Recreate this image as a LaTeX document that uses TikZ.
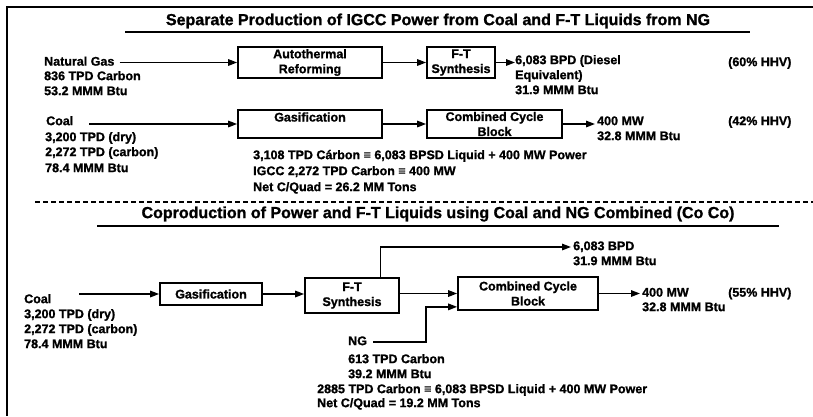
\documentclass[tikz,border=0pt]{standalone}
\usepackage{fontspec}
\setmainfont{Liberation Sans}[BoldFeatures={FakeBold=1.2}]
\usetikzlibrary{positioning,arrows.meta,calc}
\definecolor{ink}{HTML}{000000}
\newcommand{\bodyfont}{\fontsize{12.5}{15}\selectfont\bfseries}
\newcommand{\headfont}{\fontsize{16}{18}\selectfont\bfseries}

\begin{document}
\begin{tikzpicture}[x=1pt,y=-1pt,
    unit/.style={draw=ink,line width=1.7pt,align=center,inner sep=0pt,font=\bodyfont},
    flow/.style={-{Triangle[length=9pt,width=6.5pt]},line width=1.5pt,color=ink},
    lbl/.style={anchor=west,inner sep=0pt,font=\bodyfont,text height=9pt,text depth=2.7pt},
    head/.style={font=\headfont,inner sep=0pt}]

      \useasboundingbox (0,0) rectangle (813,416);
      \draw[line width=1.5pt,color=ink] (813,7) -- (7,7) -- (7,416);

      % separate production
      \node[head] (title1) at (438,21) {Separate Production of IGCC Power from Coal and F-T Liquids from NG};
      \draw[line width=1.6pt] (125,32) -- (750,32);

      \node[lbl] (ng) at (44,62.5) {Natural Gas};
      \node[lbl] at (44,77) {836 TPD Carbon};
      \node[lbl] at (44,92) {53.2 MMM Btu};
      \node[unit,minimum width=144pt,minimum height=31pt] (atr) at (310,62.5) {Autothermal\\Reforming};
      \node[unit,minimum width=68pt,minimum height=31pt] (ft1) at (461,62.5) {F-T\\Synthesis};
      \node[lbl] (bpd1) at (515,61) {6,083 BPD (Diesel};
      \node[lbl] at (515,76) {Equivalent)};
      \node[lbl] at (515,91) {31.9 MMM Btu};
      \node[lbl] at (728,63) {(60\% HHV)};

      \node[lbl] (coal1) at (46,122) {Coal};
      \node[lbl] at (45,138) {3,200 TPD (dry)};
      \node[lbl] at (45,153) {2,272 TPD (carbon)};
      \node[lbl] at (45,169) {78.4 MMM Btu};
      \node[unit,minimum width=144pt,minimum height=28pt,text height=9pt,text depth=14pt] (gas1) at (310,124) {Gasification};
      \node[unit,minimum width=135pt,minimum height=28pt] (cc1) at (494.5,124) {Combined Cycle\\Block};
      \node[lbl] (mw1) at (597,122) {400 MW};
      \node[lbl] at (597,137) {32.8 MMM Btu};
      \node[lbl] at (728,122) {(42\% HHV)};

      \node[lbl] at (253,156) {3,108 TPD Cárbon ≡ 6,083 BPSD Liquid + 400 MW Power};
      \node[lbl] at (253,172) {IGCC 2,272 TPD Carbon ≡ 400 MW};
      \node[lbl] at (253,188) {Net C/Quad = 26.2 MM Tons};

      \draw[flow] ([xshift=5pt]ng.east) -- (atr.west);
      \draw[flow] (atr.east) -- (ft1.west);
      \draw[flow] (ft1.east) -- (ft1.east -| bpd1.west);
      \draw[flow] ([xshift=16pt]coal1.east |- gas1.west) -- (gas1.west);
      \draw[flow] (gas1.east) -- (cc1.west);
      \draw[flow] (cc1.east) -- ([xshift=-2pt]cc1.east -| mw1.west);

      \draw[line width=1.7pt,dash pattern=on 4.5pt off 3.5pt] (35,202) -- (813,202);

      % coproduction
      \node[head] (title2) at (438,214) {Coproduction of Power and F-T Liquids using Coal and NG Combined (Co Co)};
      \draw[line width=1.6pt] (97,226) -- (779,226);

      \node[lbl] (coal2) at (24,300) {Coal};
      \node[lbl] at (24,315) {3,200 TPD (dry)};
      \node[lbl] at (24,330) {2,272 TPD (carbon)};
      \node[lbl] at (24,345) {78.4 MMM Btu};
      \node[unit,minimum width=102pt,minimum height=22pt] (gas2) at (211,294) {Gasification};
      \node[unit,minimum width=94pt,minimum height=35pt] (ft2) at (352,295.5) {F-T\\Synthesis};
      \node[unit,minimum width=140pt,minimum height=33pt] (cc2) at (528,293.5) {Combined Cycle\\Block};
      \node[lbl] (bpd2) at (573,247) {6,083 BPD};
      \node[lbl] at (573,262) {31.9 MMM Btu};
      \node[lbl] (mw2) at (642,293.5) {400 MW};
      \node[lbl] at (642,308) {32.8 MMM Btu};
      \node[lbl] at (728,293.5) {(55\% HHV)};

      \node[lbl] (ng2) at (348,342) {NG};
      \node[lbl] at (348,360) {613 TPD Carbon};
      \node[lbl] at (348,375) {39.2 MMM Btu};
      \node[lbl] at (317,390) {2885 TPD Carbon ≡ 6,083 BPSD Liquid + 400 MW Power};
      \node[lbl] at (317,404) {Net C/Quad = 19.2 MM Tons};

      \coordinate (ngin) at ($(cc2.south west)+(0,-4)$);
      \draw[flow] ([xshift=28pt]coal2.east |- gas2.west) -- (gas2.west);
      \draw[flow] (gas2.east) -- (gas2.east -| ft2.west);
      \draw[flow] (ft2.east |- cc2.west) -- (cc2.west);
      \draw[flow] ($(ft2.north west)!0.8!(ft2.north east)$) |- ([xshift=-2pt]bpd2.west);
      \draw[flow] ([xshift=6pt]ng2.east) -| ($(ngin)+(-31,0)$) -- (ngin);
      \draw[flow] (cc2.east) -- ([xshift=-2pt]cc2.east -| mw2.west);
    \end{tikzpicture}
\end{document}
